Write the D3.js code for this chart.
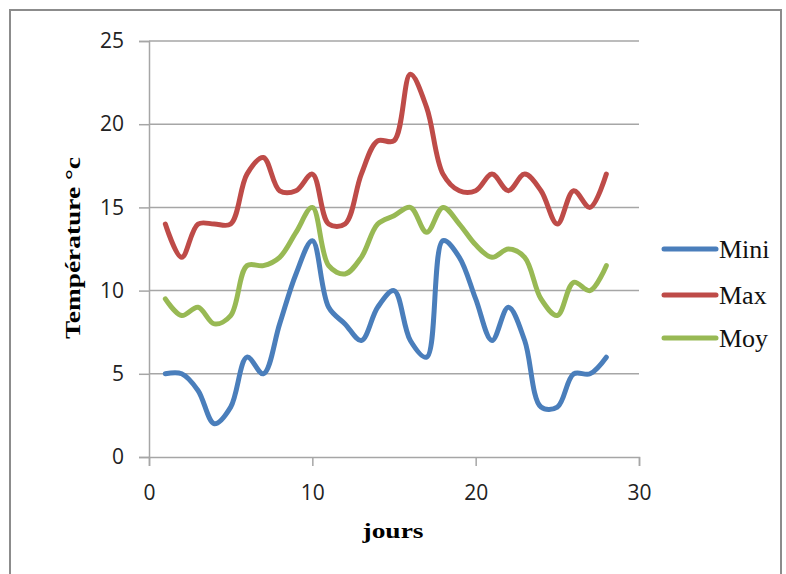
<!DOCTYPE html>
<html><head><meta charset="utf-8">
<script src="https://cdn.jsdelivr.net/npm/d3@7"></script>
<style>html,body{margin:0;padding:0;background:#fff;}</style>
</head><body>
<svg id="c" width="786" height="574"></svg>
<script>
const days = d3.range(1, 29);
const mini = [5,5,4,2,3,6,5,8,11,13,9,8,7,9,10,7,6,13,12,9.5,7,9,7,3,3,5,5,6];
const maxi = [14,12,14,14,14,17,18,16,16,17,14,14,17,19,19,23,21,17,16,16,17,16,17,16,14,16,15,17];
const moy  = [9.5,8.5,9,8,8.5,11.5,11.5,12,13.5,15,11.5,11,12,14,14.5,15,13.5,15,14,12.75,12,12.5,12,9.5,8.5,10.5,10,11.5];
const seriesNames = ["Mini","Max","Moy"];
const seriesColors = ["#4a7ebb","#be4b48","#98b954"];
const xTicks = [0,10,20,30];
const yTicks = [0,5,10,15,20,25];

const svg = d3.select("#c");
svg.append("rect").attr("x",10).attr("y",10).attr("width",771).attr("height",600)
  .attr("fill","#fff").attr("stroke","#8c8c8c").attr("stroke-width",2);

const x = d3.scaleLinear().domain([0,30]).range([149,639]);
const y = d3.scaleLinear().domain([0,25]).range([457,41]);
const gridColor = "#a6a6a6";
const tickFont = "'Open Sans', 'Liberation Sans', sans-serif";

svg.append("g").selectAll("line").data(yTicks.filter(d=>d>0)).join("line")
  .attr("x1",x(0)).attr("x2",x(30)).attr("y1",d=>y(d)).attr("y2",d=>y(d))
  .attr("stroke",gridColor).attr("stroke-width",1.5);

const ya = svg.append("g").attr("transform",`translate(${x(0)},0)`)
  .call(d3.axisLeft(y).tickValues(yTicks).tickSize(10).tickPadding(15).tickFormat(d3.format("d")));
ya.select(".domain").attr("stroke",gridColor).attr("stroke-width",1.5);
ya.selectAll(".tick line").attr("stroke",gridColor).attr("stroke-width",1.5);
ya.selectAll("text").attr("font-family",tickFont).attr("font-size",21).attr("fill","#222");

const xa = svg.append("g").attr("transform",`translate(0,${y(0)})`)
  .call(d3.axisBottom(x).tickValues(xTicks).tickSize(9).tickFormat(d3.format("d")));
xa.select(".domain").attr("stroke",gridColor).attr("stroke-width",1.5);
xa.selectAll(".tick line").attr("stroke",gridColor).attr("stroke-width",1.5);
xa.selectAll("text").attr("font-family",tickFont).attr("font-size",21).attr("fill","#222")
  .attr("y",43).attr("dy",0);

const line = d3.line().x((d,i)=>x(days[i])).y(d=>y(d)).curve(d3.curveCatmullRom.alpha(0.5));
const data = [mini, maxi, moy];
data.forEach((s,k)=>{
  svg.append("path").datum(s).attr("d",line).attr("fill","none")
    .attr("stroke",seriesColors[k]).attr("stroke-width",5)
    .attr("stroke-linejoin","round").attr("stroke-linecap","round");
});

const serif = "Liberation Serif";
svg.append("text").attr("transform","translate(80,248) rotate(-90)")
  .attr("text-anchor","middle").attr("font-family",serif).attr("font-weight","bold")
  .attr("font-size",22).attr("textLength",182).attr("lengthAdjust","spacingAndGlyphs")
  .text("Température °c");
svg.append("text").attr("x",393).attr("y",538).attr("text-anchor","middle")
  .attr("font-family",serif).attr("font-weight","bold").attr("font-size",22)
  .attr("textLength",61).attr("lengthAdjust","spacingAndGlyphs").text("jours");

const legY = [249,295,338];
seriesNames.forEach((n,k)=>{
  svg.append("line").attr("x1",664).attr("x2",716).attr("y1",legY[k]).attr("y2",legY[k])
    .attr("stroke",seriesColors[k]).attr("stroke-width",5).attr("stroke-linecap","round");
  svg.append("text").attr("x",719).attr("y",legY[k]).attr("dy","0.33em")
    .attr("font-family",serif).attr("font-size",26).attr("fill","#111").text(n);
});
</script>
</body></html>
